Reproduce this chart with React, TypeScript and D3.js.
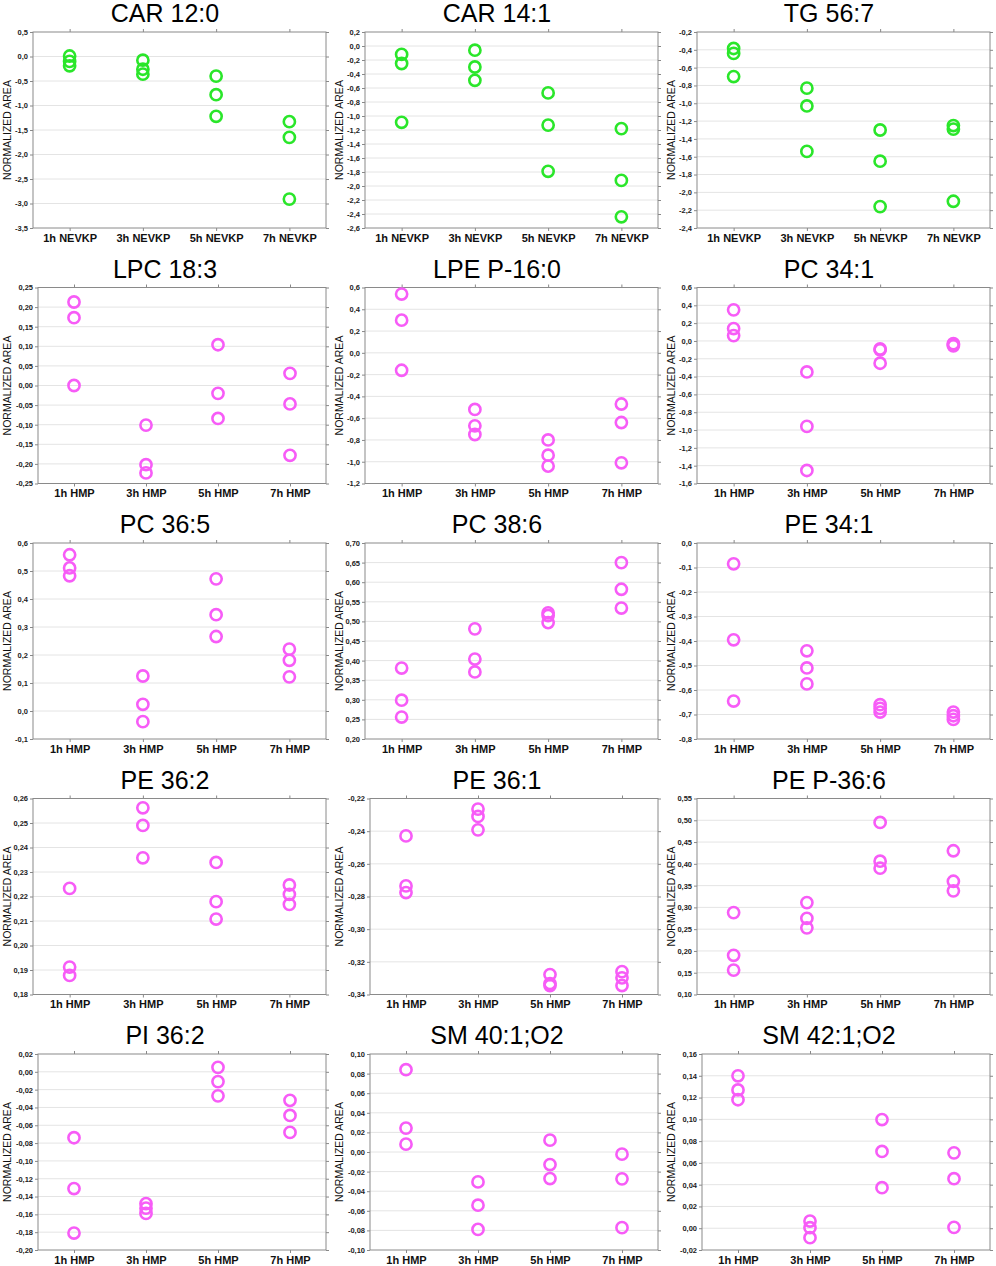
import { useEffect, useRef } from "react";
import * as d3 from "d3";

const W = 996;
const H = 1266;
const GREEN = "#2ae62a";
const PINK = "#f75cf7";
const FONT = "'Liberation Sans', Arial, sans-serif";

const NEVKP = ["1h NEVKP", "3h NEVKP", "5h NEVKP", "7h NEVKP"];
const HMP = ["1h HMP", "3h HMP", "5h HMP", "7h HMP"];

const TITLES = [
  "CAR 12:0", "CAR 14:1", "TG 56:7",
  "LPC 18:3", "LPE P-16:0", "PC 34:1",
  "PC 36:5", "PC 38:6", "PE 34:1",
  "PE 36:2", "PE 36:1", "PE P-36:6",
  "PI 36:2", "SM 40:1;O2", "SM 42:1;O2",
];

const Y_DOMAINS: [number, number][] = [
  [-3.5, 0.5], [-2.6, 0.2], [-2.4, -0.2],
  [-0.25, 0.25], [-1.2, 0.6], [-1.6, 0.6],
  [-0.1, 0.6], [0.2, 0.7], [-0.8, 0.0],
  [0.18, 0.26], [-0.34, -0.22], [0.1, 0.55],
  [-0.2, 0.02], [-0.1, 0.1], [-0.02, 0.16],
];

const Y_STEPS = [
  0.5, 0.2, 0.2,
  0.05, 0.2, 0.2,
  0.1, 0.05, 0.1,
  0.01, 0.02, 0.05,
  0.02, 0.02, 0.02,
];

// three replicates per time point
const CAR_12_0 = [[0.01, -0.1, -0.19], [-0.075, -0.26, -0.36], [-0.4, -0.78, -1.22], [-1.33, -1.65, -2.91]];
const CAR_14_1 = [[-0.12, -0.25, -1.09], [-0.06, -0.3, -0.49], [-0.67, -1.13, -1.79], [-1.18, -1.92, -2.44]];
const TG_56_7 = [[-0.385, -0.44, -0.7], [-0.83, -1.03, -1.54], [-1.3, -1.65, -2.16], [-1.25, -1.29, -2.1]];
const LPC_18_3 = [[0.213, 0.173, 0.0], [-0.101, -0.202, -0.223], [0.104, -0.02, -0.084], [0.031, -0.047, -0.178]];
const LPE_P16_0 = [[0.54, 0.3, -0.16], [-0.52, -0.67, -0.75], [-0.8, -0.94, -1.04], [-0.47, -0.64, -1.01]];
const PC_34_1 = [[0.349, 0.139, 0.06], [-0.348, -0.959, -1.454], [-0.09, -0.1, -0.25], [-0.03, -0.04, -0.055]];
const PC_36_5 = [[0.558, 0.511, 0.483], [0.125, 0.024, -0.038], [0.472, 0.344, 0.266], [0.221, 0.181, 0.122]];
const PC_38_6 = [[0.381, 0.299, 0.256], [0.481, 0.404, 0.371], [0.522, 0.515, 0.497], [0.65, 0.582, 0.534]];
const PE_34_1 = [[-0.085, -0.395, -0.645], [-0.44, -0.51, -0.575], [-0.66, -0.675, -0.69], [-0.69, -0.705, -0.72]];
const PE_36_2 = [[0.2233, 0.1912, 0.1878], [0.2562, 0.249, 0.2358], [0.2339, 0.2179, 0.2108], [0.2247, 0.2209, 0.2168]];
const PE_36_1 = [[-0.2429, -0.2735, -0.2776], [-0.2265, -0.231, -0.2392], [-0.3278, -0.3333, -0.3345], [-0.326, -0.3298, -0.3345]];
const PE_P36_6 = [[0.288, 0.19, 0.156], [0.311, 0.275, 0.253], [0.495, 0.406, 0.39], [0.43, 0.36, 0.338]];
const PI_36_2 = [[-0.074, -0.131, -0.181], [-0.148, -0.153, -0.159], [0.005, -0.011, -0.027], [-0.032, -0.049, -0.068]];
const SM_40_1 = [[0.084, 0.0244, 0.008], [-0.0305, -0.0543, -0.079], [0.0121, -0.0128, -0.0271], [-0.0022, -0.0274, -0.0772]];
const SM_42_1 = [[0.14, 0.127, 0.118], [0.0066, 0.0005, -0.0087], [0.0998, 0.0705, 0.0372], [0.0692, 0.0455, 0.0008]];

const VALUES = [
  CAR_12_0, CAR_14_1, TG_56_7,
  LPC_18_3, LPE_P16_0, PC_34_1,
  PC_36_5, PC_38_6, PE_34_1,
  PE_36_2, PE_36_1, PE_P36_6,
  PI_36_2, SM_40_1, SM_42_1,
];

export default function App() {
  const ref = useRef<SVGSVGElement | null>(null);

  useEffect(() => {
    const svg = d3.select(ref.current);
    svg.selectAll("*").remove();

    svg.append("rect").attr("width", W).attr("height", H).attr("fill", "#fff");

    VALUES.forEach((groups, i) => {
      const col = i % 3;
      const row = Math.floor(i / 3);
      const x0 = col * 332;
      const [lo, hi] = Y_DOMAINS[i];
      const step = Y_STEPS[i];
      const dec = step >= 0.1 ? 1 : 2;
      const fmt = (v: number) => d3.format(`.${dec}f`)(v).replace("−", "-").replace(".", ",");
      const ticks = d3.range(0, Math.round((hi - lo) / step) + 1).map((k) => +(lo + k * step).toFixed(4));
      const maxLen = d3.max(ticks, (t) => fmt(t).length) ?? 4;
      const left = x0 + (maxLen >= 5 ? 38 : 33);
      const right = x0 + 326;
      const top = 32 + row * 255.5;
      const bottom = top + 196;
      const color = i < 3 ? GREEN : PINK;
      const cats = i < 3 ? NEVKP : HMP;

      const x = d3.scalePoint<string>().domain(cats).range([left, right]).padding(0.5);
      const y = d3.scaleLinear().domain([lo, hi]).range([bottom, top]);

      const g = svg.append("g");

      // grid
      g.append("g")
        .selectAll("line")
        .data(ticks.slice(1, -1))
        .join("line")
        .attr("x1", left)
        .attr("x2", right)
        .attr("y1", (d) => y(d))
        .attr("y2", (d) => y(d))
        .attr("stroke", "#e4e4e4")
        .attr("stroke-width", 1);

      // y axis
      g.append("g")
        .attr("transform", `translate(${left},0)`)
        .call(d3.axisLeft(y).tickValues(ticks).tickSize(3).tickPadding(2).tickFormat((d) => fmt(+d)))
        .call((s) => s.select(".domain").remove())
        .call((s) => s.selectAll("line").attr("stroke", "#888"))
        .call((s) =>
          s.selectAll("text").attr("fill", "#222").attr("font-family", FONT).attr("font-size", 7.5).attr("font-weight", "bold")
        );

      g.append("g")
        .attr("transform", `translate(${right},0)`)
        .call(d3.axisRight(y).tickValues(ticks).tickSize(3).tickFormat(() => ""))
        .call((s) => s.select(".domain").remove())
        .call((s) => s.selectAll("line").attr("stroke", "#888"));

      // x axis
      g.append("g")
        .attr("transform", `translate(0,${bottom})`)
        .call(d3.axisBottom(x).tickSize(3).tickPadding(3))
        .call((s) => s.select(".domain").remove())
        .call((s) => s.selectAll("line").attr("stroke", "#888"))
        .call((s) =>
          s.selectAll("text").attr("fill", "#111").attr("font-family", FONT).attr("font-size", 11).attr("font-weight", "bold")
        );

      g.append("g")
        .attr("transform", `translate(0,${top})`)
        .call(d3.axisTop(x).tickSize(3).tickFormat(() => ""))
        .call((s) => s.select(".domain").remove())
        .call((s) => s.selectAll("line").attr("stroke", "#888"));

      // frame
      g.append("rect")
        .attr("x", left)
        .attr("y", top)
        .attr("width", right - left)
        .attr("height", bottom - top)
        .attr("fill", "none")
        .attr("stroke", "#8a8a8a")
        .attr("stroke-width", 1);

      // points
      groups.forEach((vals, gi) => {
        g.append("g")
          .selectAll("circle")
          .data(vals)
          .join("circle")
          .attr("cx", x(cats[gi])!)
          .attr("cy", (d) => y(d))
          .attr("r", 5.6)
          .attr("fill", "none")
          .attr("stroke", color)
          .attr("stroke-width", 2.6);
      });

      // titles
      g.append("text")
        .attr("x", x0 + 165)
        .attr("y", top - 10)
        .attr("text-anchor", "middle")
        .attr("font-family", FONT)
        .attr("font-size", 25)
        .attr("fill", "#000")
        .text(TITLES[i]);

      g.append("text")
        .attr("transform", `translate(${x0 + 10.5},${(top + bottom) / 2}) rotate(-90)`)
        .attr("text-anchor", "middle")
        .attr("font-family", FONT)
        .attr("font-size", 10.5)
        .attr("fill", "#111")
        .text("NORMALIZED AREA");
    });
  }, []);

  return (
    <svg
      ref={ref}
      width={W}
      height={H}
      style={{ position: "absolute", left: 0, top: 0, display: "block" }}
    />
  );
}
